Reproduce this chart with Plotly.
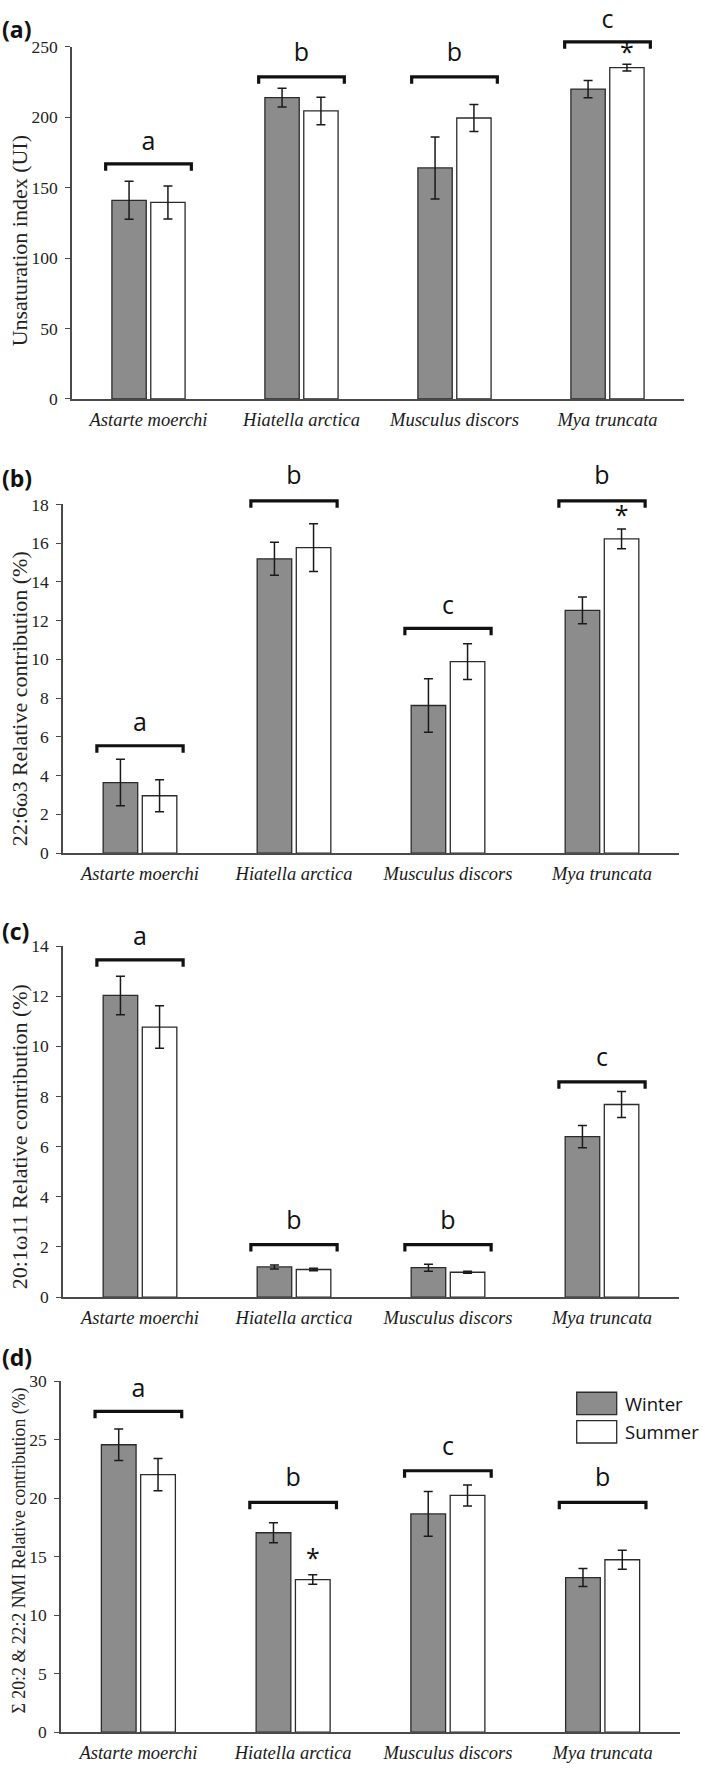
import plotly.graph_objects as go

# ---------------- data ----------------
categories = ["Astarte moerchi", "Hiatella arctica", "Musculus discors", "Mya truncata"]
series_names = ["Winter", "Summer"]

ui_winter = [141.0, 214.0, 164.0, 220.0]
ui_winter_err = [13.5, 6.7, 22.0, 6.2]
ui_summer = [139.5, 204.5, 199.5, 235.2]
ui_summer_err = [11.7, 9.8, 9.6, 2.4]

dha_winter = [3.64, 15.19, 7.62, 12.53]
dha_winter_err = [1.20, 0.85, 1.38, 0.69]
dha_summer = [2.96, 15.77, 9.88, 16.22]
dha_summer_err = [0.83, 1.23, 0.92, 0.51]

c20_winter = [12.03, 1.20, 1.17, 6.40]
c20_winter_err = [0.77, 0.08, 0.14, 0.44]
c20_summer = [10.77, 1.10, 0.99, 7.68]
c20_summer_err = [0.85, 0.05, 0.04, 0.52]

nmi_winter = [24.56, 17.04, 18.65, 13.21]
nmi_winter_err = [1.34, 0.86, 1.92, 0.77]
nmi_summer = [22.00, 13.04, 20.23, 14.73]
nmi_summer_err = [1.38, 0.40, 0.90, 0.82]

ui_letters = ["a", "b", "b", "c"]
ui_bracket_y = [166.9, 228.7, 228.7, 253.5]
ui_letter_y = [181.4, 244.1, 244.1, 267.9]

dha_letters = ["a", "b", "c", "b"]
dha_bracket_y = [5.54, 18.18, 11.6, 18.18]
dha_letter_y = [6.6, 19.35, 12.67, 19.35]

c20_letters = ["a", "b", "b", "c"]
c20_bracket_y = [13.45, 2.09, 2.09, 8.58]
c20_letter_y = [14.29, 2.96, 2.96, 9.45]

nmi_letters = ["a", "b", "c", "b"]
nmi_bracket_y = [27.41, 19.63, 22.34, 19.63]
nmi_letter_y = [29.2, 21.6, 24.25, 21.6]

# (category index, asterisk y) over the summer bar
ui_star = [(3, 244.6)]
dha_star = [(3, 17.3)]
c20_star = []
nmi_star = [(1, 14.65)]

y_titles = ["Unsaturation index (UI)",
            "22:6\u03c93 Relative contribution (%)",
            "20:1\u03c911 Relative contribution (%)",
            "\u03a3 20:2 & 22:2 NMI Relative contribution (%)"]
panel_labels = ["(a)", "(b)", "(c)", "(d)"]

# ---------------- layout geometry ----------------
W, H = 709, 1778
def fx(px):
    return px / W
def fy(py):
    return min(1.0, max(0.0, 1 - py / H))

panels = [
    dict(x0=72, x1=684, top=37.3, bot=393.3, ymax=250, dtick=50,
         w=ui_winter, we=ui_winter_err, s=ui_summer, se=ui_summer_err,
         let=ui_letters, by=ui_bracket_y, ly=ui_letter_y, star=ui_star,
         title_cy=234, title_size=22, label_cy=19),
    dict(x0=63, x1=679, top=500.0, bot=852.7, ymax=18, dtick=2,
         w=dha_winter, we=dha_winter_err, s=dha_summer, se=dha_summer_err,
         let=dha_letters, by=dha_bracket_y, ly=dha_letter_y, star=dha_star,
         title_cy=697, title_size=22, label_cy=473),
    dict(x0=63, x1=679, top=946.7, bot=1301.7, ymax=14, dtick=2,
         w=c20_winter, we=c20_winter_err, s=c20_summer, se=c20_summer_err,
         let=c20_letters, by=c20_bracket_y, ly=c20_letter_y, star=c20_star,
         title_cy=1140, title_size=22, label_cy=931),
    dict(x0=61, x1=680, top=1386.7, bot=1741.7, ymax=30, dtick=5,
         w=nmi_winter, we=nmi_winter_err, s=nmi_summer, se=nmi_summer_err,
         let=nmi_letters, by=nmi_bracket_y, ly=nmi_letter_y, star=nmi_star,
         title_cy=1558, title_size=17.8, label_cy=1362),
]

BARGAP = 0.492
BARGROUPGAP = 0.117
WINTER_FILL = "#8c8c8c"
OUTLINE = "#2b2b2b"
AXIS_COL = "#4a4a4a"
SERIF = '"Liberation Serif", "Times New Roman", Times, serif'
SANS = '"Open Sans", Lato, sans-serif'
BRACKET_HALF = 0.28
EXTRA_PX = 45  # headroom of the invisible annotation axis above each plot

fig = go.Figure()
layout = dict(
    width=W, height=H, margin=dict(l=0, r=0, t=0, b=0),
    paper_bgcolor="white", plot_bgcolor="rgba(0,0,0,0)",
    barmode="group", bargap=BARGAP, bargroupgap=BARGROUPGAP,
    showlegend=False,
)
annotations = []
shapes = []
xi = list(range(len(categories)))
summer_offset = (1 - BARGAP) / 4

for k, p in enumerate(panels):
    n = "" if k == 0 else str(k + 1)
    xa, ya = "x" + n, "y" + n
    ov = "y" + str(k + 5)  # overlay axis, same scale, taller domain
    d_bot, d_top = fy(p["bot"]), fy(p["top"])
    plot_h = p["bot"] - p["top"]
    extra = min(EXTRA_PX, p["top"] - 0.5)
    ov_max = p["ymax"] * (plot_h + extra) / plot_h

    fig.add_trace(go.Bar(
        x=xi, y=p["w"], name=series_names[0], xaxis=xa, yaxis=ya,
        marker=dict(color=WINTER_FILL, line=dict(color=OUTLINE, width=1.3)),
        error_y=dict(type="data", array=p["we"], color="#1a1a1a", thickness=1.5, width=4.5),
        offsetgroup="w"))
    fig.add_trace(go.Bar(
        x=xi, y=p["s"], name=series_names[1], xaxis=xa, yaxis=ya,
        marker=dict(color="white", line=dict(color=OUTLINE, width=1.3)),
        error_y=dict(type="data", array=p["se"], color="#1a1a1a", thickness=1.5, width=4.5),
        offsetgroup="s"))

    # brackets
    drop = 7.0 * p["ymax"] / plot_h
    bx, byy = [], []
    for i, yb in enumerate(p["by"]):
        bx += [i - BRACKET_HALF, i - BRACKET_HALF, i + BRACKET_HALF, i + BRACKET_HALF, None]
        byy += [yb - drop, yb, yb, yb - drop, None]
    fig.add_trace(go.Scatter(x=bx, y=byy, mode="lines", xaxis=xa, yaxis=ov,
                             line=dict(color="#111111", width=3.2),
                             hoverinfo="skip"))
    # letters
    fig.add_trace(go.Scatter(x=xi, y=p["ly"], text=p["let"], mode="text",
                             xaxis=xa, yaxis=ov, cliponaxis=False,
                             textfont=dict(family=SANS, size=25, color="#111111"),
                             textposition="middle center", hoverinfo="skip"))
    # asterisks
    if p["star"]:
        fig.add_trace(go.Scatter(x=[i + summer_offset for i, _ in p["star"]],
                                 y=[v for _, v in p["star"]], text=["*"] * len(p["star"]),
                                 mode="text", xaxis=xa, yaxis=ov, cliponaxis=False,
                                 textfont=dict(family=SANS, size=25, color="#111111"),
                                 textposition="middle center", hoverinfo="skip"))

    layout["xaxis" + n] = dict(
        domain=[fx(p["x0"]), fx(p["x1"])], anchor=ya, range=[-0.5, len(categories) - 0.5],
        tickmode="array", tickvals=xi, ticktext=["<i>%s</i>" % c for c in categories],
        showline=True, linecolor=AXIS_COL, linewidth=1.5, ticks="", showgrid=False,
        zeroline=False, tickfont=dict(family=SERIF, size=18.5, color="#1a1a1a"),
        ticklabelstandoff=3, fixedrange=True)
    layout["yaxis" + n] = dict(
        domain=[d_bot, d_top], anchor=xa, range=[0, p["ymax"]],
        dtick=p["dtick"], tick0=0, showline=True, linecolor=AXIS_COL, linewidth=1.5,
        ticks="outside", ticklen=5, tickwidth=1.3, tickcolor=AXIS_COL, showgrid=False,
        zeroline=False, tickfont=dict(family=SERIF, size=17.5, color="#222222"),
        ticklabelstandoff=4, fixedrange=True)
    layout["yaxis" + str(k + 5)] = dict(
        domain=[d_bot, fy(p["top"] - extra)], anchor=xa, range=[0, ov_max],
        visible=False, showgrid=False, zeroline=False, fixedrange=True)

    annotations.append(dict(text=y_titles[k], xref="paper", yref="paper",
                            x=fx(19), y=fy(p["title_cy"]), textangle=-90, showarrow=False,
                            xanchor="center", yanchor="middle",
                            font=dict(family=SERIF, size=p["title_size"], color="#222222")))
    annotations.append(dict(text="<b>%s</b>" % panel_labels[k], xref="paper", yref="paper",
                            x=fx(0), y=fy(p["label_cy"]), showarrow=False,
                            xanchor="left", yanchor="middle",
                            font=dict(family=SANS, size=23, color="#111111")))

# legend (panel d)
leg_boxes = [(1398, 1420.7, WINTER_FILL), (1426.7, 1449.3, "white")]
for (t, b, col), name in zip(leg_boxes, series_names):
    shapes.append(dict(type="rect", xref="paper", yref="paper",
                       x0=fx(576.7), x1=fx(616.7), y0=fy(b), y1=fy(t),
                       fillcolor=col, line=dict(color=OUTLINE, width=1.3)))
    annotations.append(dict(text=name, xref="paper", yref="paper",
                            x=fx(623), y=fy((t + b) / 2), showarrow=False,
                            xanchor="left", yanchor="middle",
                            font=dict(family=SANS, size=18.5, color="#111111")))

layout["annotations"] = annotations
layout["shapes"] = shapes
fig.update_layout(**layout)
fig.write_html("out.html", config={"displayModeBar": False},
               post_script="document.body.style.margin='0px';document.body.style.padding='0px';")
